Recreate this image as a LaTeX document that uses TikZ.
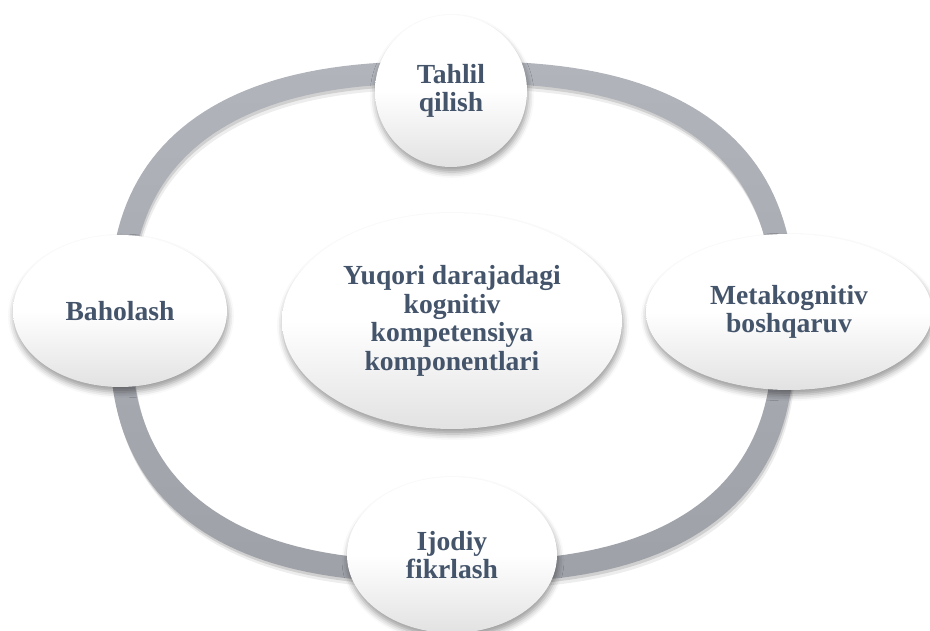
\documentclass[tikz,border=0pt]{standalone}
\usepackage{fontspec}
\setmainfont{Liberation Serif}
\usetikzlibrary{shapes.geometric,shadows.blur}

\definecolor{labeltext}{HTML}{44546A}
\definecolor{ringtop}{HTML}{B1B4BB}
\definecolor{ringbottom}{HTML}{9EA1A8}
\definecolor{bubblebottom}{HTML}{E2E2E2}

% closed superellipse around the centre of the cycle, half-axes #1 and #2
\newcommand{\superloop}[2]{plot[domain=1:359, samples=180]
  ({452+#1*cos(\x)*abs(cos(\x))^(-0.2308)},{308+#2*sin(\x)*abs(sin(\x))^(-0.2308)}) -- cycle}

\tikzset{
  bubble/.style={ellipse, inner sep=0pt, align=center, text=labeltext,
    font=\bfseries\fontsize{27.6pt}{28.7pt}\selectfont,
    top color=white, bottom color=bubblebottom, middle color=white,
    blur shadow={shadow xshift=1pt, shadow yshift=-5pt,
      shadow blur radius=6pt, shadow opacity=40}},
  ringshadow/.style={fill=black, even odd rule}
}

\begin{document}
\begin{tikzpicture}[x=1pt, y=1pt]
  \useasboundingbox (0,0) rectangle (930,630);

  % soft shadow under the ring
  \fill[ringshadow, opacity=0.07, shift={(2,-6)}] \superloop{343}{261} \superloop{321}{239};
  \fill[ringshadow, opacity=0.12, shift={(1,-3)}] \superloop{343}{261} \superloop{321}{239};
  % the ring itself
  \shade[top color=ringtop, bottom color=ringbottom, even odd rule]
    \superloop{343}{261} \superloop{321}{239};

  \node[bubble, minimum width=340pt, minimum height=216pt] (core) at (452,309)
    {Yuqori darajadagi\\kognitiv\\kompetensiya\\komponentlari};
  \node[bubble, minimum width=152pt, minimum height=152pt] (analysis) at (451,539)
    {Tahlil\\qilish};
  \node[bubble, minimum width=214pt, minimum height=152pt] (evaluation) at (120,319)
    {Baholash};
  \node[bubble, minimum width=286pt, minimum height=156pt] (metacog) at (789,318)
    {Metakognitiv\\boshqaruv};
  \node[bubble, minimum width=210pt, minimum height=156pt] (creative) at (452,75)
    {Ijodiy\\fikrlash};
\end{tikzpicture}
\end{document}
